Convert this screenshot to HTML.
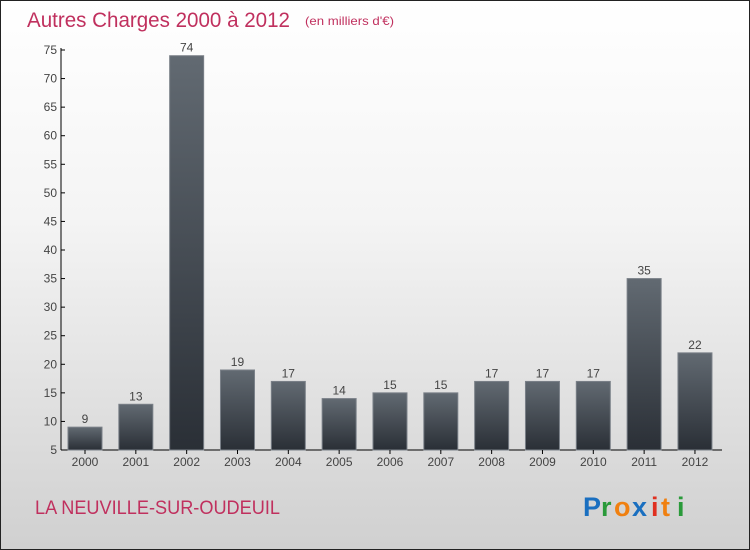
<!DOCTYPE html>
<html><head><meta charset="utf-8"><style>
body{margin:0}
#wrap{width:750px;height:550px;position:relative;box-sizing:border-box;border:1px solid #222;background:linear-gradient(#ffffff,#f4f4f4 40%,#d0d0d0);font-family:"Liberation Sans",sans-serif;overflow:hidden}
</style></head><body>
<div id="wrap">
<svg id="chart" width="750" height="550" style="position:absolute;left:-1px;top:-1px">
<defs><linearGradient id="bg" x1="0" y1="0" x2="0" y2="1"><stop offset="0" stop-color="#626a72"/><stop offset="1" stop-color="#2a2f36"/></linearGradient></defs>
<text x="27" y="27" font-size="21" fill="#c0305e" textLength="263" lengthAdjust="spacingAndGlyphs">Autres Charges 2000 à 2012</text>
<text x="305" y="25" font-size="12" fill="#c0305e" textLength="89" lengthAdjust="spacingAndGlyphs">(en milliers d'€)</text>
<text x="35" y="514" font-size="19" fill="#c0305e" textLength="245" lengthAdjust="spacingAndGlyphs">LA NEUVILLE-SUR-OUDEUIL</text>
<g font-size="27" font-weight="bold" font-family="Liberation Sans, sans-serif">
<text x="583" y="516" fill="#1a6fc0">P</text><text x="601" y="516" fill="#2a9a3a">r</text><text x="614" y="516" fill="#f08010">o</text><text x="632" y="516" fill="#1a6fc0">x</text><text x="651" y="516" fill="#e03020">i</text><text x="661" y="516" fill="#f08010">t</text><text x="677" y="516" fill="#2a9a3a">i</text>
</g>
<g id="plot"></g>
</svg>
</div>
<script>
const years=["2000","2001","2002","2003","2004","2005","2006","2007","2008","2009","2010","2011","2012"];
const values=[9,13,74,19,17,14,15,15,17,17,17,35,22];
const yTicks=[5,10,15,20,25,30,35,40,45,50,55,60,65,70,75];
const NS="http://www.w3.org/2000/svg";
const g=document.getElementById("plot");
const y=v=>450-(v-5)*400/70;
const x=i=>85+i*50.83;
function mk(t,a){const e=document.createElementNS(NS,t);for(const k in a)e.setAttribute(k,a[k]);g.appendChild(e);return e;}
const ax=mk("line",{x1:61,y1:48,x2:61,y2:450,stroke:"#000"});


const xa=mk("line",{x1:61,y1:450,x2:722,y2:450,stroke:"#000"});


yTicks.forEach(v=>{
 const l=mk("line",{x1:61,y1:y(v),x2:65,y2:y(v),stroke:"#000"});
 
 
 const t=mk("text",{x:57,y:y(v)+4,"text-anchor":"end","font-size":12,fill:"#444"});
 t.textContent=v;
 
 
});
years.forEach((yr,i)=>{
 const cx=x(i),v=values[i];
 const r=mk("rect",{x:cx-17,y:y(v),width:34,height:450-y(v),fill:"url(#bg)",stroke:"#7a8088","stroke-width":1});
 
 
 const t=mk("text",{x:cx,y:y(v)-4,"text-anchor":"middle","font-size":12,fill:"#444"});
 t.textContent=v;
 
 
 const tk=mk("line",{x1:cx,y1:450,x2:cx,y2:454,stroke:"#000"});
 
 
 const xl=mk("text",{x:cx,y:466,"text-anchor":"middle","font-size":12,fill:"#444"});
 xl.textContent=yr;
 
 
});
</script>
</body></html>
